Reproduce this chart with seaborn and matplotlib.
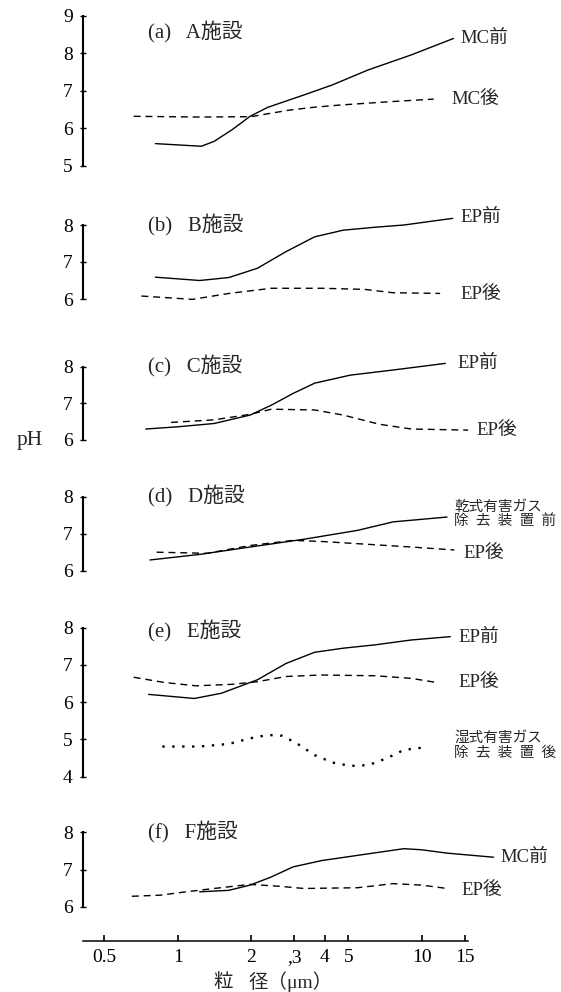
import matplotlib
matplotlib.use("Agg")
import matplotlib.pyplot as plt
import seaborn as sns
import pandas as pd

# ---------------- data ----------------
x_ticks = [0.5, 1, 2, 3, 4, 5, 10, 15]
x_tick_labels = ["0.5", "1", "2", ",3", "4", "5", "10", "15"]

panel_titles = ["(a)   A施設", "(b)   B施設", "(c)   C施設", "(d)   D施設", "(e)   E施設", "(f)   F施設"]
y_ticks_a = [5, 6, 7, 8, 9]
y_ticks_b = [6, 7, 8]
y_ticks_c = [6, 7, 8]
y_ticks_d = [6, 7, 8]
y_ticks_e = [4, 5, 6, 7, 8]
y_ticks_f = [6, 7, 8]

# (a) A facility
a_mc_before_x = [0.81, 1.25, 1.41, 1.67, 1.98, 2.34, 3.29, 4.31, 6.04, 9.06, 13.5]
a_mc_before_y = [5.59, 5.52, 5.65, 5.96, 6.32, 6.56, 6.89, 7.16, 7.56, 7.96, 8.40]
a_mc_after_x = [0.66, 1.23, 2.0, 2.4, 2.9, 3.6, 4.6, 7.4, 11.2]
a_mc_after_y = [6.32, 6.30, 6.31, 6.40, 6.49, 6.56, 6.62, 6.71, 6.78]

# (b) B facility
b_ep_before_x = [0.81, 1.23, 1.62, 2.12, 2.78, 3.64, 4.77, 6.45, 8.46, 13.4]
b_ep_before_y = [6.59, 6.50, 6.58, 6.83, 7.28, 7.68, 7.86, 7.94, 8.00, 8.18]
b_ep_after_x = [0.71, 1.15, 1.62, 2.42, 3.89, 5.84, 7.6, 11.9]
b_ep_after_y = [6.08, 5.99, 6.15, 6.29, 6.29, 6.26, 6.17, 6.15]

# (c) C facility
c_ep_before_x = [0.74, 1.0, 1.41, 1.98, 2.42, 2.97, 3.64, 5.1, 7.64, 12.5]
c_ep_before_y = [6.30, 6.36, 6.45, 6.68, 6.95, 7.27, 7.55, 7.77, 7.91, 8.09]
c_ep_after_x = [0.94, 1.41, 1.98, 2.42, 3.64, 4.77, 6.7, 9.07, 15.5]
c_ep_after_y = [6.48, 6.55, 6.70, 6.84, 6.82, 6.68, 6.43, 6.30, 6.27]

# (d) D facility
d_dry_before_x = [0.77, 1.23, 1.98, 3.29, 5.46, 7.64, 12.7]
d_dry_before_y = [6.29, 6.44, 6.64, 6.85, 7.09, 7.32, 7.45]
d_ep_after_x = [0.82, 1.32, 1.98, 2.97, 3.89, 5.46, 9.06, 13.6]
d_ep_after_y = [6.50, 6.47, 6.68, 6.82, 6.79, 6.73, 6.64, 6.56]

# (e) E facility
e_ep_before_x = [0.76, 1.17, 1.51, 2.12, 2.78, 3.64, 4.77, 6.45, 9.06, 13.1]
e_ep_before_y = [6.21, 6.10, 6.24, 6.60, 7.04, 7.34, 7.45, 7.54, 7.67, 7.76]
e_ep_after_x = [0.66, 0.88, 1.19, 1.67, 2.12, 2.78, 3.89, 6.45, 9.06, 11.5]
e_ep_after_y = [6.67, 6.53, 6.44, 6.48, 6.55, 6.69, 6.73, 6.71, 6.64, 6.53]
e_wet_after_x = [0.865, 1.23, 1.62, 1.98, 2.34, 2.68, 3.07, 3.64, 4.31, 5.1, 6.04, 7.16, 8.46, 10.4]
e_wet_after_y = [4.81, 4.81, 4.88, 5.03, 5.12, 5.10, 4.90, 4.58, 4.38, 4.29, 4.31, 4.49, 4.72, 4.79]

# (f) F facility
f_mc_before_x = [1.23, 1.62, 1.98, 2.42, 2.97, 3.89, 5.46, 8.46, 10.0, 12.7, 19.7]
f_mc_before_y = [6.40, 6.44, 6.58, 6.80, 7.07, 7.24, 7.38, 7.56, 7.53, 7.44, 7.33]
f_ep_after_x = [0.649, 0.85, 1.08, 1.41, 1.98, 2.6, 3.29, 5.46, 7.64, 10.0, 12.7]
f_ep_after_y = [6.28, 6.31, 6.40, 6.49, 6.60, 6.55, 6.49, 6.51, 6.62, 6.58, 6.49]

# ---------------- style ----------------
sns.set_theme(style="ticks")
FAM = ["Liberation Serif", "Noto Sans CJK JP"]
plt.rcParams["font.family"] = FAM
plt.rcParams["axes.unicode_minus"] = False

W, H = 561, 992
fig = plt.figure(figsize=(W / 100, H / 100), dpi=100)
fig.patch.set_facecolor("white")

LEFT_PX, RIGHT_PX = 82.5, 468.0
XLIM = (0.4073, 15.48)

SOLID = dict(linestyle="-", lw=1.0)
DASH = dict(linestyle=(0, (5, 3.5)), lw=1.0)
DOT = dict(linestyle=(0, (1, 3.2)), lw=1.7)

# panel geometry: (top_px, bottom_px, yticks)
geom = [
    (16.0, 165.7, y_ticks_a),
    (225.0, 299.0, y_ticks_b),
    (366.7, 440.0, y_ticks_c),
    (496.7, 570.7, y_ticks_d),
    (627.7, 776.7, y_ticks_e),
    (832.3, 906.7, y_ticks_f),
]

series = [
    [(a_mc_before_x, a_mc_before_y, SOLID), (a_mc_after_x, a_mc_after_y, DASH)],
    [(b_ep_before_x, b_ep_before_y, SOLID), (b_ep_after_x, b_ep_after_y, DASH)],
    [(c_ep_before_x, c_ep_before_y, SOLID), (c_ep_after_x, c_ep_after_y, DASH)],
    [(d_dry_before_x, d_dry_before_y, SOLID), (d_ep_after_x, d_ep_after_y, DASH)],
    [(e_ep_before_x, e_ep_before_y, SOLID), (e_ep_after_x, e_ep_after_y, DASH),
     (e_wet_after_x, e_wet_after_y, DOT)],
    [(f_mc_before_x, f_mc_before_y, SOLID), (f_ep_after_x, f_ep_after_y, DASH)],
]

# label texts with their positions (x data, y data, fontsize)
labels = [
    [("MC前", 14.35, 8.40, 13.5), ("MC後", 13.2, 6.78, 13.5)],
    [("EP前", 14.35, 8.20, 13.5), ("EP後", 14.35, 6.13, 13.5)],
    [("EP前", 14.0, 8.09, 13.5), ("EP後", 16.7, 6.25, 13.5)],
    [("乾式有害ガス", 13.56, 7.73, 10.5), ("除  去  装  置  前", 13.56, 7.35, 10.5),
     ("EP後", 14.77, 6.47, 13.5)],
    [("EP前", 14.1, 7.74, 13.5), ("EP後", 14.1, 6.53, 13.5),
     ("湿式有害ガス", 13.56, 5.04, 10.5), ("除  去  装  置  後", 13.56, 4.64, 10.5)],
    [("MC前", 21.1, 7.33, 13.5), ("EP後", 14.56, 6.44, 13.5)],
]

title_y = [8.57, 8.0, 8.0, 8.0, 7.9, 8.0]
TITLE_X = 0.755

for i, ((top, bot, yt), ser, labs) in enumerate(zip(geom, series, labels)):
    ax = fig.add_axes([LEFT_PX / W, 1 - bot / H, (RIGHT_PX - LEFT_PX) / W, (bot - top) / H])
    ax.set_facecolor("none")
    ax.set_xscale("log")
    for xs, ys, st in ser:
        df = pd.DataFrame({"x": xs, "y": ys})
        sns.lineplot(data=df, x="x", y="y", ax=ax, color="black", estimator=None,
                     sort=False, clip_on=False, **st)
    ax.set_xlim(*XLIM)
    ax.set_ylim(yt[0], yt[-1])
    ax.set_yticks(yt)
    ax.set_yticklabels([str(v) for v in yt])
    ax.set_xlabel("")
    ax.set_ylabel("")
    ax.minorticks_off()
    for s in ["top", "right"]:
        ax.spines[s].set_visible(False)
    ax.spines["left"].set_linewidth(1.5)
    ax.spines["left"].set_color("black")
    ax.tick_params(axis="y", direction="inout", length=4, width=1.0, pad=5,
                   labelsize=14, colors="black")
    if i < 5:
        ax.spines["bottom"].set_visible(False)
        ax.tick_params(axis="x", which="both", bottom=False, labelbottom=False)
    else:
        ax.spines["bottom"].set_position(("outward", 24.5))
        ax.spines["bottom"].set_linewidth(1.1)
        ax.spines["bottom"].set_color("black")
        ax.set_xticks(x_ticks)
        ax.set_xticklabels(x_tick_labels)
        ax.tick_params(axis="x", which="major", direction="in", length=4, width=1.2,
                       pad=6, labelsize=14, colors="black")
        ax.tick_params(axis="x", which="minor", bottom=False)
    ax.text(TITLE_X, title_y[i], panel_titles[i], fontsize=15, ha="left", va="center",
            family=FAM)
    for txt, lx, ly, fs in labs:
        ax.text(lx, ly, txt, fontsize=fs, ha="left", va="center", family=FAM)

fig.text(30 / W, 1 - 440 / H, "pH", fontsize=15.5, ha="center", va="center", family=FAM)
fig.text(223 / W, 1 - 982 / H, "粒", fontsize=14, ha="center", va="center", family=FAM)
fig.text(249 / W, 1 - 982 / H, "径（μm）", fontsize=14, ha="left", va="center", family=FAM)

fig.savefig("out.png", dpi=100, facecolor="white")
